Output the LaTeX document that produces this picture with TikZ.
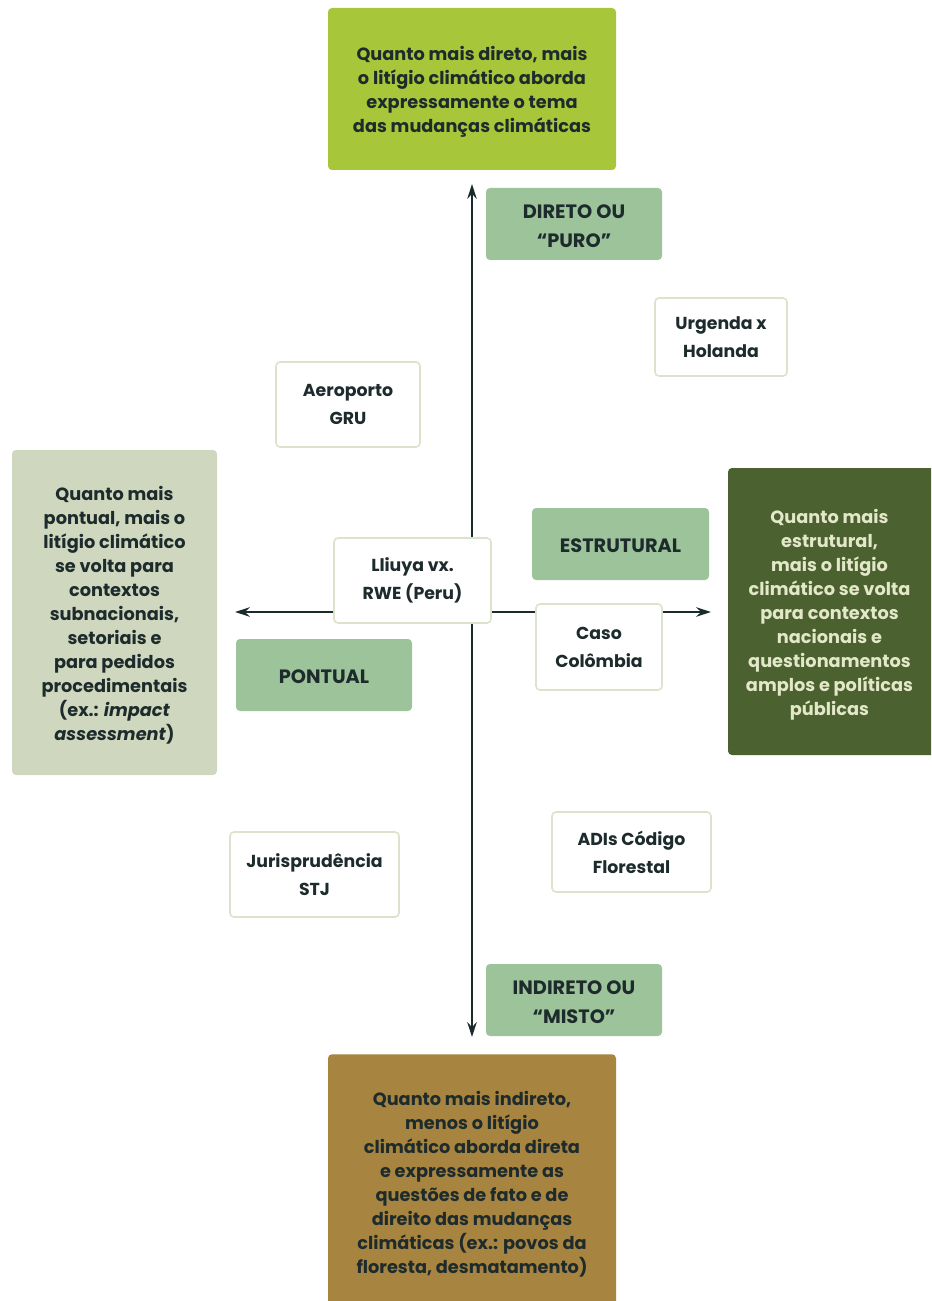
\documentclass[tikz,border=0pt]{standalone}
\usepackage{fontspec}
\setmainfont{Poppins}
\usetikzlibrary{arrows.meta}
\definecolor{topgreen}{HTML}{A8C639}
\definecolor{labgreen}{HTML}{9CC39A}
\definecolor{leftbox}{HTML}{CFD8BE}
\definecolor{rightbox}{HTML}{4B6130}
\definecolor{bottombox}{HTML}{A7843F}
\definecolor{wborder}{HTML}{DDE2CC}
\definecolor{txt}{HTML}{1E2B2D}
\definecolor{rtxt}{HTML}{E3E8C8}
\definecolor{axis}{HTML}{1B2B2B}
\tikzset{
  sz/.style 2 args={minimum width=#1*0.75pt, minimum height=#2*0.75pt},
  base/.style={rounded corners=3pt, align=center, inner sep=0pt, text=txt,
    font=\bfseries\fontsize{13.3pt}{18pt}\selectfont},
  bigbox/.style={base},
  bigtext/.style={base, yshift=-2.3pt},
  label/.style={base, fill=labgreen},
  labtext/.style={base, yshift=-1.5pt, font=\bfseries\fontsize{14.5pt}{21.5pt}\selectfont},
  casebox/.style={base, fill=white, draw=wborder, line width=1.2pt,
    font=\bfseries\fontsize{13pt}{21pt}\selectfont},
  axisline/.style={draw=axis, line width=1.9pt, -{Stealth[length=11pt,width=7pt]}}
}
\begin{document}
\begin{tikzpicture}[x=0.75pt,y=-0.75pt]
\clip (0,0) rectangle (931,1301);
\fill[white] (0,0) rectangle (931,1301);
% axes
\coordinate (center) at (472,612);
\coordinate (vt) at (472,184);
\coordinate (vb) at (472,1037);
\coordinate (hl) at (235,612);
\coordinate (hr) at (711,612);
\draw[axisline] (center) -- (vt);
\draw[axisline] (center) -- (vb);
\draw[axisline] (center) -- (hl);
\draw[axisline] (center) -- (hr);
% big boxes
\node[bigbox, fill=topgreen, sz={288}{162}] (top) at (472,89) {};
\node[bigtext] (toptext) at (top.center)
  {Quanto mais direto, mais\\o litígio climático aborda\\expressamente o tema\\das mudanças climáticas};
\node[bigbox, fill=leftbox, sz={205}{325}] (left) at (114.5,612.5) {};
\node[bigtext] (lefttext) at (left.center)
  {Quanto mais\\pontual, mais o\\litígio climático\\se volta para\\contextos\\subnacionais,\\setoriais e\\para pedidos\\procedimentais\\(ex.: \textit{impact}\\\textit{assessment})};
\node[bigbox, fill=rightbox, sz={207}{287}] (right) at (831.5,611.5) {};
\node[bigtext, text=rtxt, xshift=-1.5pt] (righttext) at (right.center)
  {Quanto mais\\estrutural,\\mais o litígio\\climático se volta\\para contextos\\nacionais e\\questionamentos\\amplos e políticas\\públicas};
\node[bigbox, fill=bottombox, sz={288}{270}, anchor=north] (bottom) at (472,1054) {};
\node[base, anchor=north] (bottomtext) at (472,1091)
  {Quanto mais indireto,\\menos o litígio\\climático aborda direta\\e expressamente as\\questões de fato e de\\direito das mudanças\\climáticas (ex.: povos da\\floresta, desmatamento)};
% labels
\node[label, sz={176}{72}] (puro) at (574,224) {};
\node[labtext] (purotext) at (puro.center) {DIRETO OU\\“PURO”};
\node[label, sz={177}{72}] (estrut) at (620.5,544) {};
\node[labtext] (estruttext) at (estrut.center) {ESTRUTURAL};
\node[label, sz={176}{72}] (pontual) at (324,675) {};
\node[labtext] (pontualtext) at (pontual.center) {PONTUAL};
\node[label, sz={176}{72}] (indireto) at (574,1000) {};
\node[labtext] (indiretotext) at (indireto.center) {INDIRETO OU\\“MISTO”};
% cases
\node[casebox, sz={132}{78}] (urgenda) at (721,337) {Urgenda x\\Holanda};
\node[casebox, sz={144}{85}] (aero) at (348,404.5) {Aeroporto\\GRU};
\node[casebox, sz={157}{85}] (lliuya) at (412.5,580.5) {Lliuya vx.\\RWE (Peru)};
\node[casebox, sz={126}{86}] (caso) at (599,647) {Caso\\Colômbia};
\node[casebox, sz={159}{80}] (adis) at (631.5,852) {ADIs Código\\Florestal};
\node[casebox, sz={169}{85}] (juris) at (314.5,874.5) {Jurisprudência\\STJ};
\end{tikzpicture}
\end{document}
